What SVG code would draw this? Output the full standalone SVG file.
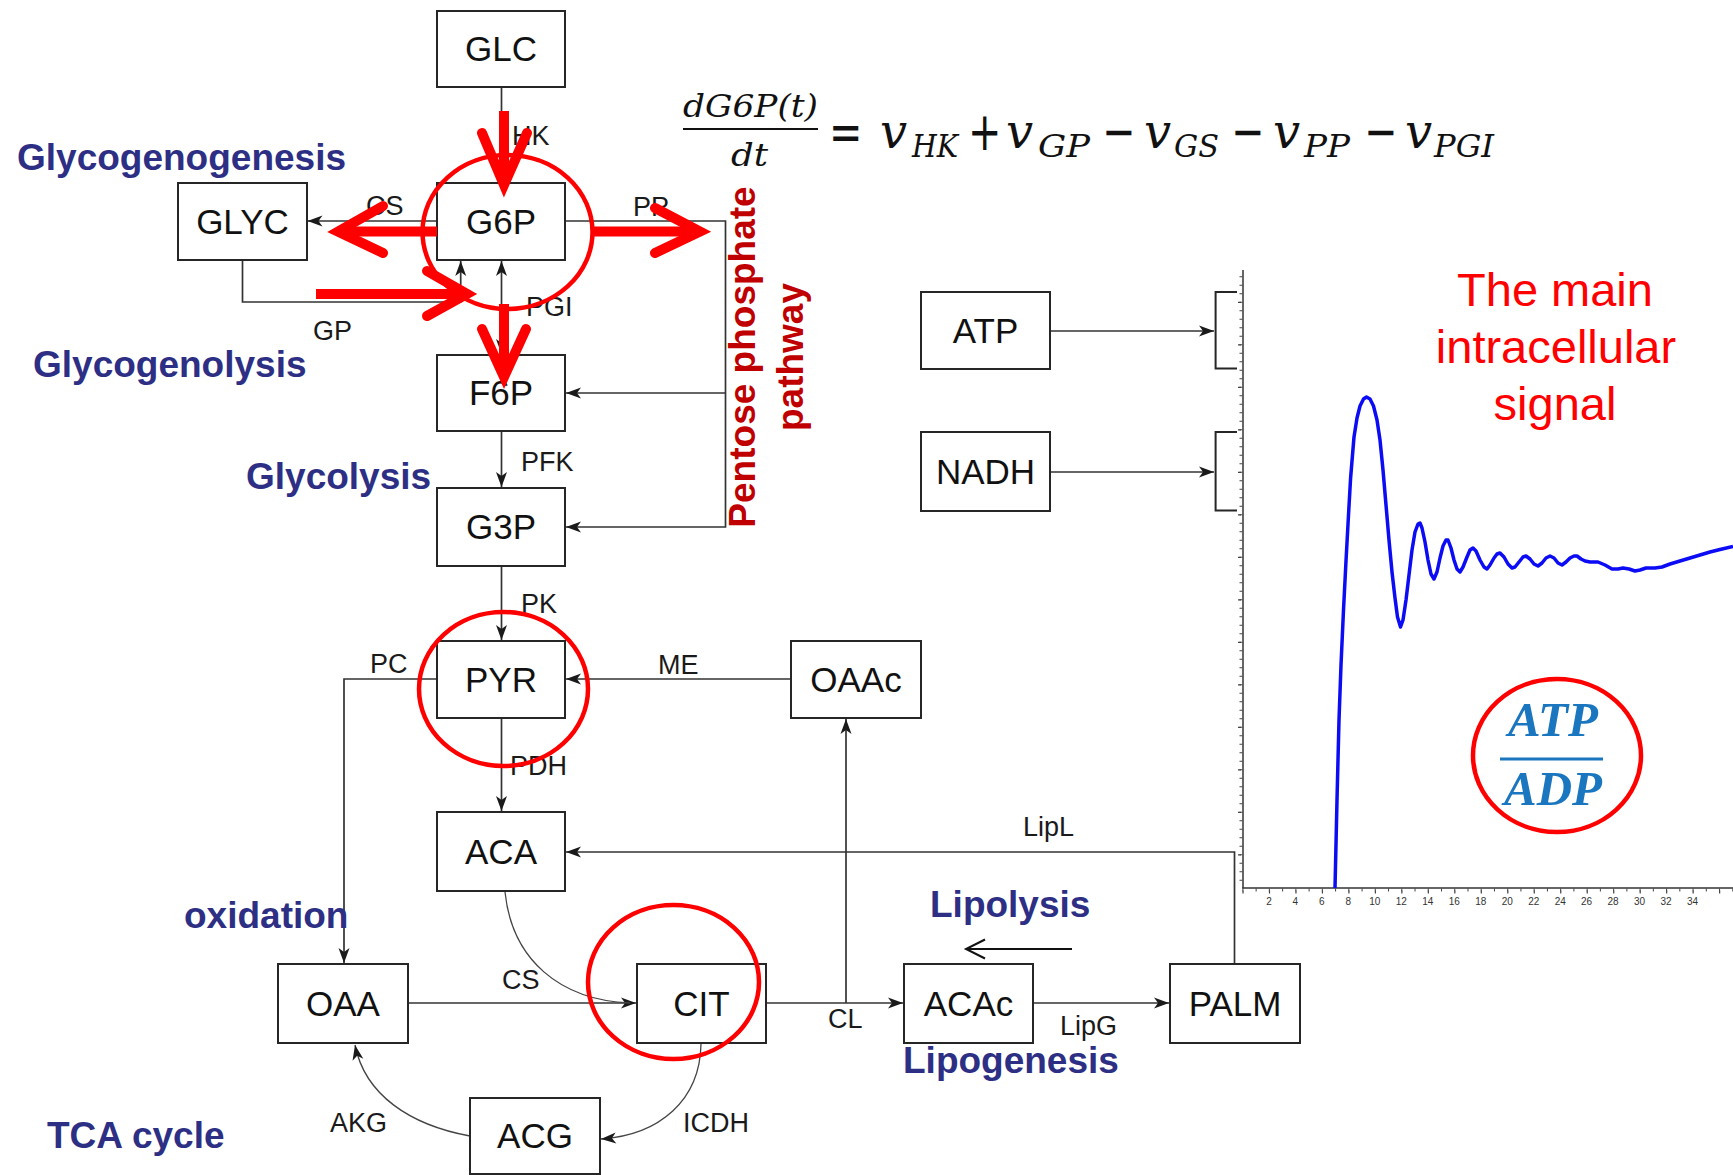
<svg xmlns="http://www.w3.org/2000/svg" width="1733" height="1175" viewBox="0 0 1733 1175">
<defs>
<style>
.box{fill:#fff;stroke:#262626;stroke-width:2}
.bl{font-family:"Liberation Sans",Arial,sans-serif;font-size:35px;fill:#111;text-anchor:middle}
.lb{font-family:"Liberation Sans",Arial,sans-serif;font-size:27px;fill:#1a1a1a}
.hd{font-family:"Liberation Sans",Arial,sans-serif;font-size:37px;font-weight:bold;fill:#2d2f84}
.cn{fill:none;stroke:#333;stroke-width:1.7}
.cv{fill:none;stroke:#444;stroke-width:1.3}
.ring{fill:none;stroke:#f00;stroke-width:4.5}
.rs{fill:none;stroke:#f00;stroke-width:10}
.rw{fill:none;stroke:#f00;stroke-width:10;stroke-linecap:round;stroke-linejoin:miter}
.eq{font-family:"DejaVu Serif","Liberation Serif",serif;font-style:italic;fill:#111}
.eqo{font-family:"DejaVu Sans","Liberation Sans",sans-serif;font-size:54px;fill:#111}
.tk{font-family:"Liberation Sans",Arial,sans-serif;font-size:10px;fill:#333;text-anchor:middle}
</style>
<marker id="ah" viewBox="-16 -7 17 14" refX="0" refY="0" markerWidth="17" markerHeight="14" markerUnits="userSpaceOnUse" orient="auto-start-reverse">
<path d="M0,0 L-15,-5.5 L-11,0 L-15,5.5 Z" fill="#1a1a1a"/>
</marker>
</defs>
<rect x="0" y="0" width="1733" height="1175" fill="#fff"/>

<!-- connectors -->
<g id="connectors">
<path class="cn" d="M501.5,87 V183" marker-end="url(#ah)"/>
<path class="cn" d="M437,221 H307.5" marker-end="url(#ah)"/>
<path class="cn" d="M565,221 H725.5 V527 H566" marker-end="url(#ah)"/>
<path class="cn" d="M725.5,393 H566" marker-end="url(#ah)"/>
<path class="cn" d="M242.5,260 V302 H460.7 V261" marker-end="url(#ah)"/>
<path class="cn" d="M501.5,261 V354" marker-start="url(#ah)" marker-end="url(#ah)"/>
<path class="cn" d="M501.5,431 V487" marker-end="url(#ah)"/>
<path class="cn" d="M501.5,566 V640" marker-end="url(#ah)"/>
<path class="cn" d="M437,679 H344 V963" marker-end="url(#ah)"/>
<path class="cn" d="M791,679 H566" marker-end="url(#ah)"/>
<path class="cn" d="M501.5,718 V811" marker-end="url(#ah)"/>
<path class="cn" d="M1234.5,964 V852 H566" marker-end="url(#ah)"/>
<path class="cn" d="M408,1003 H636" marker-end="url(#ah)"/>
<path class="cn" d="M766,1003 H903" marker-end="url(#ah)"/>
<path class="cn" d="M846,1003 V719" marker-end="url(#ah)"/>
<path class="cn" d="M1033,1003 H1169" marker-end="url(#ah)"/>
<path class="cn" d="M1050,331 H1214" marker-end="url(#ah)"/>
<path class="cn" d="M1050,472 H1214" marker-end="url(#ah)"/>
<path class="cv" d="M505,892 C512,960 560,1000 630,1003"/>
<path class="cv" d="M701,1044 C700,1100 660,1135 601,1139" marker-end="url(#ah)"/>
<path class="cv" d="M470,1136 C410,1125 365,1095 355,1045" marker-end="url(#ah)"/>
<path d="M1072,949 H966 M985,939.5 L966,949 L985,958.5" fill="none" stroke="#111" stroke-width="2"/>
</g>

<!-- partially hidden boxes -->
<path d="M1237,292 H1215.6 V368.5 H1237 M1237,432 H1215.6 V510.5 H1237" fill="none" stroke="#262626" stroke-width="2"/>

<!-- nodes -->
<g id="GLC"><rect class="box" x="437" y="11" width="128" height="76"/><text class="bl" x="501" y="61">GLC</text></g>
<g id="G6P"><rect class="box" x="437" y="183" width="128" height="77"/><text class="bl" x="501" y="234">G6P</text></g>
<g id="GLYC"><rect class="box" x="178" y="183" width="129" height="77"/><text class="bl" x="242.5" y="234">GLYC</text></g>
<g id="F6P"><rect class="box" x="437" y="355" width="128" height="76"/><text class="bl" x="501" y="405">F6P</text></g>
<g id="G3P"><rect class="box" x="437" y="488" width="128" height="78"/><text class="bl" x="501" y="539">G3P</text></g>
<g id="PYR"><rect class="box" x="437" y="641" width="128" height="77"/><text class="bl" x="501" y="692">PYR</text></g>
<g id="OAAc"><rect class="box" x="791" y="641" width="130" height="77"/><text class="bl" x="856" y="692">OAAc</text></g>
<g id="ACA"><rect class="box" x="437" y="812" width="128" height="79"/><text class="bl" x="501" y="864">ACA</text></g>
<g id="OAA"><rect class="box" x="278" y="964" width="130" height="79"/><text class="bl" x="343" y="1016">OAA</text></g>
<g id="CIT"><rect class="box" x="637" y="964" width="129" height="79"/><text class="bl" x="701.5" y="1016">CIT</text></g>
<g id="ACAc"><rect class="box" x="904" y="964" width="129" height="79"/><text class="bl" x="968.5" y="1016">ACAc</text></g>
<g id="PALM"><rect class="box" x="1170" y="964" width="130" height="79"/><text class="bl" x="1235" y="1016">PALM</text></g>
<g id="ACG"><rect class="box" x="470" y="1098" width="130" height="76"/><text class="bl" x="535" y="1148">ACG</text></g>
<g id="ATP"><rect class="box" x="921" y="292" width="129" height="77"/><text class="bl" x="985.5" y="343">ATP</text></g>
<g id="NADH"><rect class="box" x="921" y="432" width="129" height="79"/><text class="bl" x="985.5" y="484">NADH</text></g>

<!-- reaction labels -->
<g id="labels" class="lb">
<text class="lb" x="512" y="145">HK</text>
<text class="lb" x="366" y="215">CS</text>
<text class="lb" x="633" y="216">PP</text>
<text class="lb" x="526" y="316">PGI</text>
<text class="lb" x="313" y="340">GP</text>
<text class="lb" x="521" y="471">PFK</text>
<text class="lb" x="521" y="613">PK</text>
<text class="lb" x="370" y="673">PC</text>
<text class="lb" x="658" y="674">ME</text>
<text class="lb" x="510" y="775">PDH</text>
<text class="lb" x="1023" y="836">LipL</text>
<text class="lb" x="502" y="989">CS</text>
<text class="lb" x="828" y="1028">CL</text>
<text class="lb" x="1060" y="1035">LipG</text>
<text class="lb" x="330" y="1132">AKG</text>
<text class="lb" x="683" y="1132">ICDH</text>
</g>

<!-- process headings -->
<g id="headings">
<text class="hd" x="17" y="170">Glycogenogenesis</text>
<text class="hd" x="33" y="377">Glycogenolysis</text>
<text class="hd" x="246" y="489">Glycolysis</text>
<text class="hd" x="184" y="928">oxidation</text>
<text class="hd" x="930" y="917">Lipolysis</text>
<text class="hd" x="903" y="1073">Lipogenesis</text>
<text class="hd" x="47" y="1148">TCA cycle</text>
</g>
<g id="pentose" font-family="'Liberation Sans',Arial,sans-serif" font-size="37" font-weight="bold" fill="#c00000" text-anchor="middle">
<text transform="translate(755,357) rotate(-90)">Pentose phosphate</text>
<text transform="translate(803,357) rotate(-90)">pathway</text>
</g>

<!-- equation -->
<g id="equation">
<text class="eq" x="683" y="117" font-size="31" textLength="135" lengthAdjust="spacingAndGlyphs">dG6P(t)</text>
<line x1="683" y1="129" x2="818" y2="129" stroke="#111" stroke-width="2"/>
<text class="eq" x="731" y="166" font-size="31" textLength="37" lengthAdjust="spacingAndGlyphs">dt</text>
<text class="eqo" transform="translate(829,150) scale(0.74,1)">=</text>
<text class="eq" y="148" font-size="48"><tspan x="880">v</tspan><tspan x="912" y="157" font-size="32" textLength="46" lengthAdjust="spacingAndGlyphs">HK</tspan></text>
<text class="eqo" transform="translate(968,150) scale(0.74,1)">+</text>
<text class="eq" y="148" font-size="48"><tspan x="1006">v</tspan><tspan x="1038" y="157" font-size="32" textLength="52" lengthAdjust="spacingAndGlyphs">GP</tspan></text>
<text class="eqo" transform="translate(1102,150) scale(0.74,1)">−</text>
<text class="eq" y="148" font-size="48"><tspan x="1144">v</tspan><tspan x="1174" y="157" font-size="32" textLength="45" lengthAdjust="spacingAndGlyphs">GS</tspan></text>
<text class="eqo" transform="translate(1231,150) scale(0.74,1)">−</text>
<text class="eq" y="148" font-size="48"><tspan x="1273">v</tspan><tspan x="1304" y="157" font-size="32" textLength="46" lengthAdjust="spacingAndGlyphs">PP</tspan></text>
<text class="eqo" transform="translate(1364,150) scale(0.74,1)">−</text>
<text class="eq" y="148" font-size="48"><tspan x="1405">v</tspan><tspan x="1434" y="157" font-size="32" textLength="60" lengthAdjust="spacingAndGlyphs">PGI</tspan></text>
</g>

<!-- chart -->
<g id="chart">
<line x1="1243" y1="270" x2="1243" y2="888.5" stroke="#333" stroke-width="1.5"/>
<line x1="1242.3" y1="888" x2="1733" y2="888" stroke="#333" stroke-width="1.5"/>
<line x1="1241" y1="270" x2="1241" y2="888" stroke="#444" stroke-width="3" stroke-dasharray="1 7.5" stroke-dashoffset="2.2"/>
<line x1="1239.5" y1="270" x2="1239.5" y2="888" stroke="#444" stroke-width="3" stroke-dasharray="1.2 41.3" stroke-dashoffset="10.7"/>
<line x1="1242.4" y1="890" x2="1733" y2="890" stroke="#444" stroke-width="3" stroke-dasharray="1 12.24"/>
<line x1="1242.4" y1="892" x2="1733" y2="892" stroke="#444" stroke-width="3" stroke-dasharray="1.2 25.28"/>
<text class="tk" x="1269" y="905">2</text>
<text class="tk" x="1295.4" y="905">4</text>
<text class="tk" x="1321.8" y="905">6</text>
<text class="tk" x="1348.3" y="905">8</text>
<text class="tk" x="1374.8" y="905">10</text>
<text class="tk" x="1401.3" y="905">12</text>
<text class="tk" x="1427.8" y="905">14</text>
<text class="tk" x="1454.2" y="905">16</text>
<text class="tk" x="1480.7" y="905">18</text>
<text class="tk" x="1507.2" y="905">20</text>
<text class="tk" x="1533.7" y="905">22</text>
<text class="tk" x="1560.2" y="905">24</text>
<text class="tk" x="1586.6" y="905">26</text>
<text class="tk" x="1613.1" y="905">28</text>
<text class="tk" x="1639.6" y="905">30</text>
<text class="tk" x="1666.1" y="905">32</text>
<text class="tk" x="1692.6" y="905">34</text>
<polyline fill="none" stroke="#0b0bf5" stroke-width="3.5" stroke-linejoin="round" points="1335,888 1337,800 1339,720 1341,665 1343.5,610 1346,561 1348.5,515 1350.6,478 1352.5,455 1354,437 1357,418 1360,406 1363.5,399 1366.5,397 1370,399 1373.5,406 1377,420 1380,440 1383,470 1386,505 1389,540 1392,572 1395,598 1397.5,617 1400.5,627 1403,620 1406,600 1409,575 1412,550 1415,532 1418,524 1420,523 1422,528 1425,542 1428,560 1431,574 1434,579 1437,572 1440,558 1443,546 1446,540 1448,540 1451,548 1454,560 1457,569 1460,572 1463,567 1467,557 1470,550 1473,548 1476,551 1480,560 1484,567 1487,569 1490,565 1494,558 1497,554 1500,553 1504,557 1508,564 1512,568 1515,567 1519,562 1523,557 1526,556 1530,559 1534,564 1538,566 1542,563 1546,558 1550,556 1554,558 1558,563 1562,565 1566,562 1570,558 1574,556 1577,556 1581,559 1585,561 1590,562 1598,562 1605,565 1612,569 1618,569 1623,568 1629,569 1635,571 1640,570 1646,568 1655,568 1662,567 1670,564 1680,561 1690,558 1700,555 1710,552 1720,549.5 1733,546.5"/>
</g>

<g id="signal" font-family="'Liberation Sans',Arial,sans-serif" font-size="47" fill="#f00" text-anchor="middle">
<text x="1555" y="306">The main</text>
<text x="1556" y="363">intracellular</text>
<text x="1555" y="420">signal</text>
</g>

<g id="ratio">
<ellipse class="ring" cx="1557" cy="755.5" rx="84" ry="76.5"/>
<text x="1553" y="736" font-family="'Liberation Serif','Times New Roman',serif" font-size="49" font-weight="bold" font-style="italic" fill="#1b76c0" text-anchor="middle">ATP</text>
<line x1="1500" y1="759" x2="1603" y2="759" stroke="#1b76c0" stroke-width="3"/>
<text x="1553" y="805" font-family="'Liberation Serif','Times New Roman',serif" font-size="49" font-weight="bold" font-style="italic" fill="#1b76c0" text-anchor="middle">ADP</text>
</g>

<!-- red highlights -->
<g id="highlights">
<ellipse class="ring" cx="507.5" cy="232" rx="85" ry="77"/>
<ellipse class="ring" cx="503.5" cy="689" rx="84.5" ry="77"/>
<ellipse class="ring" cx="673.5" cy="982" rx="85.5" ry="77"/>
<line class="rs" x1="504" y1="111" x2="504" y2="180"/>
<polyline class="rw" points="482,133 504,185 527,133"/>
<line class="rs" x1="437" y1="231.5" x2="345" y2="231.5"/>
<polyline class="rw" points="383,206 338,231.5 383,253"/>
<line class="rs" x1="593" y1="231.5" x2="692" y2="231.5"/>
<polyline class="rw" points="655,208 700,231.5 655,253"/>
<line class="rs" x1="316" y1="294" x2="460" y2="294"/>
<polyline class="rw" points="427,271 467,294 427,316"/>
<line class="rs" x1="504" y1="304" x2="504" y2="372"/>
<polyline class="rw" points="482,329 504,377 526,329"/>
</g>
</svg>
